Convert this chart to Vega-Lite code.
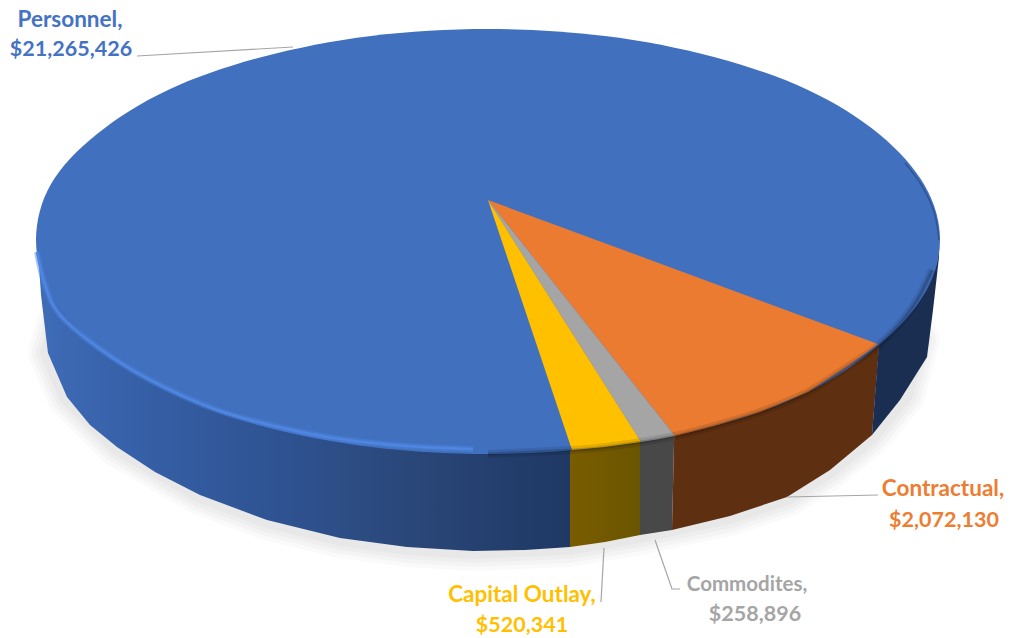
{"$schema":"https://vega.github.io/schema/vega-lite/v6.json","width":1010,"height":638,"padding":0,"autosize":{"type":"fit","contains":"padding"},"background":"white","view":{"stroke":null},
"datasets":{
"outlines":[
{"piece":"shadow","i":1,"x":62,"y":305},{"piece":"shadow","i":2,"x":48,"y":353},{"piece":"shadow","i":3,"x":67,"y":397},{"piece":"shadow","i":4,"x":117,"y":447},{"piece":"shadow","i":5,"x":200,"y":495},{"piece":"shadow","i":6,"x":267,"y":520},{"piece":"shadow","i":7,"x":340,"y":538},{"piece":"shadow","i":8,"x":407,"y":547},{"piece":"shadow","i":9,"x":473,"y":551},{"piece":"shadow","i":10,"x":570,"y":547},{"piece":"shadow","i":11,"x":640,"y":535},{"piece":"shadow","i":12,"x":730,"y":516},{"piece":"shadow","i":13,"x":787,"y":497},{"piece":"shadow","i":14,"x":830,"y":470},{"piece":"shadow","i":15,"x":872,"y":435},{"piece":"shadow","i":16,"x":905,"y":395},{"piece":"shadow","i":17,"x":920,"y":340},{"piece":"shadow","i":18,"x":900,"y":305},
{"piece":"wallBlue","i":1,"x":38,"y":250},{"piece":"wallBlue","i":2,"x":41,"y":295},{"piece":"wallBlue","i":3,"x":48,"y":353},{"piece":"wallBlue","i":4,"x":67,"y":397},{"piece":"wallBlue","i":5,"x":90,"y":425},{"piece":"wallBlue","i":6,"x":117,"y":447},{"piece":"wallBlue","i":7,"x":155,"y":472},{"piece":"wallBlue","i":8,"x":200,"y":495},{"piece":"wallBlue","i":9,"x":267,"y":520},{"piece":"wallBlue","i":10,"x":340,"y":538},{"piece":"wallBlue","i":11,"x":407,"y":547},{"piece":"wallBlue","i":12,"x":473,"y":551},{"piece":"wallBlue","i":13,"x":525,"y":550},{"piece":"wallBlue","i":14,"x":570,"y":547},{"piece":"wallBlue","i":15,"x":570,"y":400},
{"piece":"wallYellow","i":1,"x":570,"y":400},{"piece":"wallYellow","i":2,"x":570,"y":547},{"piece":"wallYellow","i":3,"x":605,"y":542},{"piece":"wallYellow","i":4,"x":640,"y":535},{"piece":"wallYellow","i":5,"x":640,"y":400},
{"piece":"wallGray","i":1,"x":640,"y":400},{"piece":"wallGray","i":2,"x":640,"y":535},{"piece":"wallGray","i":3,"x":672,"y":530},{"piece":"wallGray","i":4,"x":675,"y":400},
{"piece":"wallOrange","i":1,"x":675,"y":400},{"piece":"wallOrange","i":2,"x":672,"y":530},{"piece":"wallOrange","i":3,"x":730,"y":516},{"piece":"wallOrange","i":4,"x":787,"y":497},{"piece":"wallOrange","i":5,"x":830,"y":470},{"piece":"wallOrange","i":6,"x":872,"y":435},{"piece":"wallOrange","i":7,"x":880,"y":335},
{"piece":"wallNavy","i":1,"x":880,"y":330},{"piece":"wallNavy","i":2,"x":872,"y":435},{"piece":"wallNavy","i":3,"x":900,"y":400},{"piece":"wallNavy","i":4,"x":927,"y":357},{"piece":"wallNavy","i":5,"x":933,"y":310},{"piece":"wallNavy","i":6,"x":939,"y":257},{"piece":"wallNavy","i":7,"x":939,"y":235},
{"piece":"top","i":1,"x":488,"y":29},{"piece":"top","i":2,"x":605,"y":36},{"piece":"top","i":3,"x":714,"y":57},{"piece":"top","i":4,"x":808,"y":90},{"piece":"top","i":5,"x":879,"y":134},{"piece":"top","i":6,"x":925,"y":186},{"piece":"top","i":7,"x":940,"y":240},{"piece":"top","i":8,"x":925,"y":293},{"piece":"top","i":9,"x":879,"y":345},{"piece":"top","i":10,"x":808,"y":392},{"piece":"top","i":11,"x":714,"y":426},{"piece":"top","i":12,"x":605,"y":447},{"piece":"top","i":13,"x":488,"y":454},{"piece":"top","i":14,"x":371,"y":447},{"piece":"top","i":15,"x":262,"y":426},{"piece":"top","i":16,"x":168,"y":391},{"piece":"top","i":17,"x":97,"y":346},{"piece":"top","i":18,"x":51,"y":295},{"piece":"top","i":19,"x":36,"y":240},{"piece":"top","i":20,"x":51,"y":184},{"piece":"top","i":21,"x":97,"y":134},{"piece":"top","i":22,"x":168,"y":90},{"piece":"top","i":23,"x":262,"y":57},{"piece":"top","i":24,"x":371,"y":36},
{"piece":"Contractual","i":1,"x":488,"y":200},{"piece":"Contractual","i":2,"x":878,"y":344},{"piece":"Contractual","i":3,"x":850,"y":365},{"piece":"Contractual","i":4,"x":808,"y":392},{"piece":"Contractual","i":5,"x":760,"y":412},{"piece":"Contractual","i":6,"x":714,"y":426},{"piece":"Contractual","i":7,"x":675,"y":436},
{"piece":"Commodites","i":1,"x":488,"y":200},{"piece":"Commodites","i":2,"x":675,"y":436},{"piece":"Commodites","i":3,"x":660,"y":439},{"piece":"Commodites","i":4,"x":641,"y":442},
{"piece":"Capital Outlay","i":1,"x":488,"y":200},{"piece":"Capital Outlay","i":2,"x":641,"y":442},{"piece":"Capital Outlay","i":3,"x":605,"y":447},{"piece":"Capital Outlay","i":4,"x":572,"y":450},
{"piece":"highlight","i":1,"x":37,"y":252},{"piece":"highlight","i":2,"x":45,"y":285},{"piece":"highlight","i":3,"x":60,"y":315},{"piece":"highlight","i":4,"x":100,"y":349},{"piece":"highlight","i":5,"x":150,"y":380},{"piece":"highlight","i":6,"x":217,"y":410},{"piece":"highlight","i":7,"x":283,"y":428},{"piece":"highlight","i":8,"x":340,"y":439},{"piece":"highlight","i":9,"x":407,"y":446},{"piece":"highlight","i":10,"x":473,"y":449},
{"piece":"rim","i":1,"x":488,"y":454},{"piece":"rim","i":2,"x":572,"y":450},{"piece":"rim","i":3,"x":605,"y":447},{"piece":"rim","i":4,"x":641,"y":442},{"piece":"rim","i":5,"x":675,"y":436},{"piece":"rim","i":6,"x":714,"y":426},{"piece":"rim","i":7,"x":760,"y":412},{"piece":"rim","i":8,"x":808,"y":392},{"piece":"rim","i":9,"x":850,"y":365},{"piece":"rim","i":10,"x":879,"y":345},{"piece":"rim","i":11,"x":912,"y":308},{"piece":"rim","i":12,"x":932,"y":270},
{"piece":"rimTop","i":1,"x":905,"y":163},{"piece":"rimTop","i":2,"x":922,"y":186},{"piece":"rimTop","i":3,"x":934,"y":212},{"piece":"rimTop","i":4,"x":939,"y":240},
{"piece":"leadPersonnel","i":1,"x":137,"y":56},{"piece":"leadPersonnel","i":2,"x":293,"y":47},
{"piece":"leadContractual","i":1,"x":787,"y":497},{"piece":"leadContractual","i":2,"x":878,"y":495},
{"piece":"leadCapital","i":1,"x":604,"y":548},{"piece":"leadCapital","i":2,"x":601,"y":602},
{"piece":"leadCommodites","i":1,"x":655,"y":540},{"piece":"leadCommodites","i":2,"x":672,"y":589},{"piece":"leadCommodites","i":3,"x":680,"y":589}
],
"labels":[
{"category":"Personnel","amount":21265426,"line":"Personnel,","x":70,"y":27},
{"category":"Personnel","amount":21265426,"line":"$21,265,426","x":71,"y":56},
{"category":"Contractual","amount":2072130,"line":"Contractual,","x":943,"y":496},
{"category":"Contractual","amount":2072130,"line":"$2,072,130","x":944,"y":527},
{"category":"Capital Outlay","amount":520341,"line":"Capital Outlay,","x":522,"y":602},
{"category":"Capital Outlay","amount":520341,"line":"$520,341","x":522,"y":632},
{"category":"Commodites","amount":258896,"line":"Commodites,","x":747,"y":591},
{"category":"Commodites","amount":258896,"line":"$258,896","x":755,"y":621}
]},
"encoding":{
"x":{"field":"x","type":"quantitative","scale":{"domain":[0,1010],"nice":false,"zero":false},"axis":null},
"y":{"field":"y","type":"quantitative","scale":{"domain":[638,0],"nice":false,"zero":false},"axis":null}
},
"layer":[
{"data":{"name":"outlines"},"transform":[{"filter":"datum.piece==='shadow'"}],"mark":{"type":"line","interpolate":"linear-closed","stroke":"#000","strokeOpacity":0.02,"strokeWidth":40,"strokeJoin":"round"},"encoding":{"order":{"field":"i"}}},
{"data":{"name":"outlines"},"transform":[{"filter":"datum.piece==='shadow'"}],"mark":{"type":"line","interpolate":"linear-closed","stroke":"#000","strokeOpacity":0.025,"strokeWidth":32,"strokeJoin":"round"},"encoding":{"order":{"field":"i"}}},
{"data":{"name":"outlines"},"transform":[{"filter":"datum.piece==='shadow'"}],"mark":{"type":"line","interpolate":"linear-closed","stroke":"#000","strokeOpacity":0.025,"strokeWidth":24,"strokeJoin":"round"},"encoding":{"order":{"field":"i"}}},
{"data":{"name":"outlines"},"transform":[{"filter":"datum.piece==='shadow'"}],"mark":{"type":"line","interpolate":"linear-closed","stroke":"#000","strokeOpacity":0.025,"strokeWidth":16,"strokeJoin":"round"},"encoding":{"order":{"field":"i"}}},
{"data":{"name":"outlines"},"transform":[{"filter":"datum.piece==='wallBlue'"}],"mark":{"type":"line","interpolate":"linear-closed","strokeWidth":0,"fill":{"gradient":"linear","x1":0,"y1":0,"x2":1,"y2":0,"stops":[{"offset":0,"color":"#3f6cb7"},{"offset":0.2,"color":"#355fa6"},{"offset":0.45,"color":"#2f5392"},{"offset":0.7,"color":"#2a4779"},{"offset":1,"color":"#1f3864"}]}},"encoding":{"order":{"field":"i"}}},
{"data":{"name":"outlines"},"transform":[{"filter":"datum.piece==='wallYellow'"}],"mark":{"type":"line","interpolate":"linear-closed","strokeWidth":0,"fill":{"gradient":"linear","x1":0,"y1":0,"x2":1,"y2":0,"stops":[{"offset":0,"color":"#7a5c00"},{"offset":1,"color":"#6a5500"}]}},"encoding":{"order":{"field":"i"}}},
{"data":{"name":"outlines"},"transform":[{"filter":"datum.piece==='wallGray'"}],"mark":{"type":"line","interpolate":"linear-closed","strokeWidth":0,"fill":"#484848"},"encoding":{"order":{"field":"i"}}},
{"data":{"name":"outlines"},"transform":[{"filter":"datum.piece==='wallOrange'"}],"mark":{"type":"line","interpolate":"linear-closed","strokeWidth":0,"fill":"#5e2f10"},"encoding":{"order":{"field":"i"}}},
{"data":{"name":"outlines"},"transform":[{"filter":"datum.piece==='wallNavy'"}],"mark":{"type":"line","interpolate":"linear-closed","strokeWidth":0,"fill":"#1a2e52"},"encoding":{"order":{"field":"i"}}},
{"data":{"name":"outlines"},"transform":[{"filter":"datum.piece==='top'"}],"mark":{"type":"line","interpolate":"cardinal-closed","strokeWidth":0,"fill":"#4170bf"},"encoding":{"order":{"field":"i"}}},
{"data":{"name":"outlines"},"transform":[{"filter":"datum.piece==='Contractual'"}],"mark":{"type":"line","interpolate":"linear-closed","strokeWidth":0,"fill":"#ea7b30"},"encoding":{"order":{"field":"i"}}},
{"data":{"name":"outlines"},"transform":[{"filter":"datum.piece==='Commodites'"}],"mark":{"type":"line","interpolate":"linear-closed","strokeWidth":0,"fill":"#a5a5a5"},"encoding":{"order":{"field":"i"}}},
{"data":{"name":"outlines"},"transform":[{"filter":"datum.piece==='Capital Outlay'"}],"mark":{"type":"line","interpolate":"linear-closed","strokeWidth":0,"fill":"#ffc000"},"encoding":{"order":{"field":"i"}}},
{"data":{"name":"outlines"},"transform":[{"filter":"datum.piece==='rim'"}],"mark":{"type":"line","interpolate":"cardinal","stroke":"#000","strokeOpacity":0.1,"strokeWidth":8},"encoding":{"order":{"field":"i"}}},
{"data":{"name":"outlines"},"transform":[{"filter":"datum.piece==='rim'"}],"mark":{"type":"line","interpolate":"cardinal","stroke":"#000","strokeOpacity":0.18,"strokeWidth":3},"encoding":{"order":{"field":"i"}}},
{"data":{"name":"outlines"},"transform":[{"filter":"datum.piece==='rimTop'"}],"mark":{"type":"line","interpolate":"cardinal","stroke":"#1a2e52","strokeOpacity":0.4,"strokeWidth":1.5},"encoding":{"order":{"field":"i"}}},
{"data":{"name":"outlines"},"transform":[{"filter":"datum.piece==='highlight'"}],"mark":{"type":"line","interpolate":"cardinal","stroke":"#4f84dd","strokeOpacity":0.45,"strokeWidth":6},"encoding":{"order":{"field":"i"}}},
{"data":{"name":"outlines"},"transform":[{"filter":"datum.piece==='highlight'"}],"mark":{"type":"line","interpolate":"cardinal","stroke":"#4f86e2","strokeWidth":2.5},"encoding":{"order":{"field":"i"}}},
{"data":{"name":"outlines"},"transform":[{"filter":"indexof(datum.piece,'lead')===0"}],"mark":{"type":"line","stroke":"#a6a6a6","strokeWidth":1.2},"encoding":{"detail":{"field":"piece"},"order":{"field":"i"}}},
{"data":{"name":"labels"},"mark":{"type":"text","font":"Lato","fontWeight":"bold","align":"center","baseline":"alphabetic"},"encoding":{"text":{"field":"line"},"size":{"condition":[{"test":"indexof(datum.line,'$')===0","value":21.5},{"test":"datum.line==='Commodites,'","value":20.5}],"value":22.5},"color":{"field":"category","type":"nominal","legend":null,"scale":{"domain":["Personnel","Contractual","Commodites","Capital Outlay"],"range":["#4472c4","#ed7d31","#a5a5a5","#ffc000"]}}}}
]}
